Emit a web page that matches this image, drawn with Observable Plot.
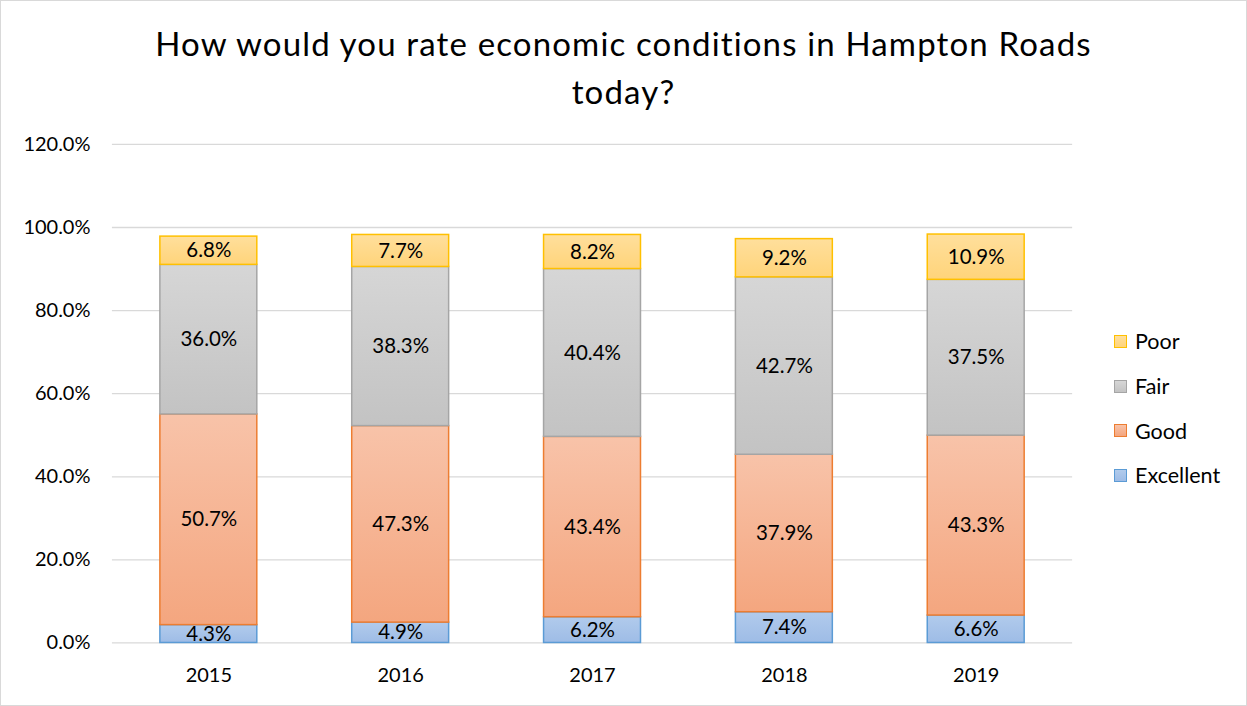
<!DOCTYPE html>
<html><head><meta charset="utf-8">
<script src="https://cdn.jsdelivr.net/npm/d3@7"></script>
<script src="https://cdn.jsdelivr.net/npm/@observablehq/plot@0.6"></script>
<style>
html,body{margin:0;padding:0;background:#fff;}
#wrap{position:relative;width:1245px;height:704px;border:1px solid #D9D9D9;font-family:Lato,"Open Sans",sans-serif;overflow:hidden;}
#title{position:absolute;left:0;top:18px;width:1245px;text-align:center;font-size:33px;letter-spacing:1.15px;line-height:48px;color:#000;}
#chart{position:absolute;left:-1px;top:-1px;}
#legend{position:absolute;left:1113px;top:318px;font-size:21.5px;color:#000;}
.li{display:flex;align-items:center;height:44.7px;}
.sw{width:13px;height:13px;margin-right:8px;box-sizing:border-box;border:1.5px solid;}
</style></head>
<body>
<div id="wrap">
<div id="chart"></div>
<div id="title">How would you rate economic conditions in Hampton Roads<br>today?</div>
<div id="legend"></div>
</div>
<script>
const years = ["2015","2016","2017","2018","2019"];
const categories = ["Excellent","Good","Fair","Poor"];
const excellent = [4.3, 4.9, 6.2, 7.4, 6.6];
const good = [50.7, 47.3, 43.4, 37.9, 43.3];
const fair = [36.0, 38.3, 40.4, 42.7, 37.5];
const poor = [6.8, 7.7, 8.2, 9.2, 10.9];
const yTicks = [0, 0.2, 0.4, 0.6, 0.8, 1.0, 1.2];

const series = {Excellent: excellent, Good: good, Fair: fair, Poor: poor};
const strokes = {Excellent: "#5B9BD5", Good: "#ED7D31", Fair: "#A5A5A5", Poor: "#FFC000"};
const grads = {
  Excellent: ["#B1CBEC", "#9EBCE6"],
  Good: ["#F8C3A9", "#F4A67F"],
  Fair: ["#D6D6D6", "#C3C3C3"],
  Poor: ["#FFDF9C", "#FFD47A"]
};

const data = [];
years.forEach((y, i) => categories.forEach(c => data.push({year: y, cat: c, value: series[c][i] / 100})));

const fillOf = d => "url(#g_" + d.cat + ")";
const strokeOf = d => strokes[d.cat];

const plot = Plot.plot({
  width: 1247,
  height: 706,
  marginLeft: 112,
  marginRight: 174,
  marginTop: 144,
  marginBottom: 63,
  style: {fontFamily: "Lato, 'Open Sans', sans-serif", fontSize: "20px", color: "#000", background: "transparent"},
  x: {domain: years, paddingInner: 0.495, paddingOuter: 0.2475, label: null, tickSize: 0, tickPadding: 25},
  y: {domain: [0, 1.2], ticks: yTicks, tickFormat: d3.format(".1%"), label: null, tickSize: 0, tickPadding: 22},
  color: {type: "identity"},
  marks: [
    Plot.ruleY(yTicks, {stroke: "#D9D9D9", strokeWidth: 1.3}),
    Plot.barY(data, Plot.stackY({x: "year", y: "value", z: "cat", order: categories, fill: fillOf, stroke: strokeOf, strokeWidth: 1.5})),
    Plot.text(data, Plot.stackY({x: "year", y: "value", z: "cat", order: categories, text: d => d.value.toLocaleString("en-US", {style: "percent", minimumFractionDigits: 1}), fill: "#000", fontSize: 20.5}))
  ]
});

// gradient defs
const svg = d3.select(plot);
const defs = svg.insert("defs", ":first-child");
categories.forEach(c => {
  const g = defs.append("linearGradient").attr("id", "g_" + c).attr("x1", 0).attr("y1", 0).attr("x2", 0).attr("y2", 1);
  g.append("stop").attr("offset", "0%").attr("stop-color", grads[c][0]);
  g.append("stop").attr("offset", "100%").attr("stop-color", grads[c][1]);
});
document.getElementById("chart").appendChild(plot);

const lg = document.getElementById("legend");
categories.slice().reverse().forEach(c => {
  const row = document.createElement("div");
  row.className = "li";
  const sw = document.createElement("div");
  sw.className = "sw";
  sw.style.borderColor = strokes[c];
  sw.style.background = `linear-gradient(${grads[c][0]}, ${grads[c][1]})`;
  const t = document.createElement("span");
  t.textContent = c;
  row.appendChild(sw); row.appendChild(t);
  lg.appendChild(row);
});
</script>
</body></html>
